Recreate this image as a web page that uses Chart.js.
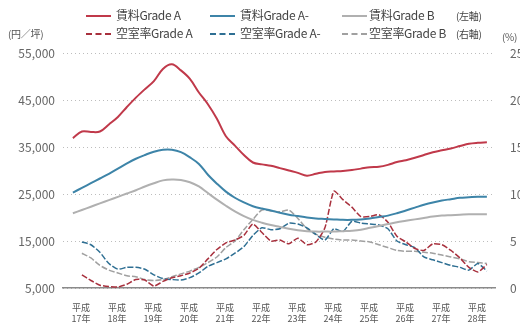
<!DOCTYPE html>
<html><head><meta charset="utf-8">
<script src="https://cdn.jsdelivr.net/npm/chart.js@4"></script>
<style>
body{margin:0;width:520px;height:326px;overflow:hidden;background:#fff;font-family:"Noto Sans CJK JP","Noto Sans",sans-serif;}
#wrap{position:relative;width:520px;height:326px;}
canvas{position:absolute;left:0;top:0;}
.lg{position:absolute;font-size:12px;color:#444;line-height:14px;white-space:nowrap;letter-spacing:-0.3px;}
.sw{position:absolute;width:25px;height:0;}
</style></head><body>
<div id="wrap">
<canvas id="c" width="520" height="326"></canvas>
<div class="sw" style="left:86px;top:15px;border-top:2px solid #c0394a"></div>
<div class="lg" style="left:116px;top:8px">賃料Grade A</div>
<div class="sw" style="left:210px;top:15px;border-top:2px solid #3d84a8"></div>
<div class="lg" style="left:240px;top:8px">賃料Grade A-</div>
<div class="sw" style="left:342px;top:15px;border-top:2px solid #b0b0b0"></div>
<div class="lg" style="left:369px;top:8px">賃料Grade B</div>
<div class="lg" style="left:456px;top:9px;font-size:10px">(左軸)</div>
<div class="sw" style="left:86px;top:33px;border-top:2px dashed #a8303d"></div>
<div class="lg" style="left:116px;top:26px">空室率Grade A</div>
<div class="sw" style="left:210px;top:33px;border-top:2px dashed #2e6f93"></div>
<div class="lg" style="left:240px;top:26px">空室率Grade A-</div>
<div class="sw" style="left:342px;top:33px;border-top:2px dashed #a0a0a0"></div>
<div class="lg" style="left:369px;top:26px">空室率Grade B</div>
<div class="lg" style="left:456px;top:27px;font-size:10px">(右軸)</div>
<div class="lg" style="left:8px;top:27px;font-size:10px;color:#555">(円／坪)</div>
<div class="lg" style="left:502px;top:30px;font-size:10px;color:#555">(%)</div>
</div>
<script>
// quarterly index 0..46
const rentA = [36900,38300,38200,38300,39800,41400,43500,45500,47300,49000,51600,52600,51300,49500,46600,44100,41000,37300,35300,33300,31700,31300,31000,30500,30000,29500,28900,29300,29700,29800,29900,30100,30400,30700,30800,31200,31800,32200,32700,33300,33900,34300,34700,35200,35700,35900,36000];
const rentAm = [25300,26300,27300,28300,29300,30400,31500,32500,33300,34000,34400,34400,33900,32800,31400,29100,27200,25500,24200,23200,22400,21900,21500,21000,20600,20300,20000,19800,19700,19600,19500,19500,19600,19800,20100,20400,20900,21500,22100,22700,23200,23600,23900,24200,24300,24400,24400];
const rentB = [20900,21600,22300,23000,23700,24400,25100,25800,26600,27300,27900,28100,28000,27500,26600,25200,23800,22500,21300,20300,19500,18900,18400,18000,17600,17300,17100,17000,17000,17000,17100,17200,17400,17800,18200,18600,19000,19300,19600,19900,20200,20400,20500,20600,20700,20700,20700];
const vacA = [null,1.4,0.8,0.3,0.15,0.1,0.4,0.9,0.85,0.2,0.7,1.1,1.3,1.6,2.1,3.1,4.1,4.8,5.1,5.6,6.8,5.9,5.0,5.1,4.7,5.3,4.6,4.9,6.4,10.3,9.4,8.6,7.6,7.6,7.8,7.0,5.5,4.9,4.2,4.0,4.7,4.6,4.0,3.2,2.2,1.7,2.5];
const vacAm = [null,4.9,4.6,3.8,2.6,2.0,2.2,2.2,2.0,1.4,1.0,0.9,0.85,1.1,1.6,2.3,2.7,3.1,3.7,4.4,5.6,6.4,6.2,6.3,6.9,6.8,6.4,5.7,5.1,6.3,6.0,7.1,6.9,6.8,6.7,6.3,5.0,4.6,4.3,3.3,3.0,2.7,2.4,2.2,1.9,2.6,1.8];
const vacB = [null,3.7,3.2,2.4,1.9,1.6,1.3,1.2,0.9,0.8,0.9,1.2,1.5,1.8,2.2,2.7,3.3,4.3,5.0,6.2,7.3,8.3,8.2,8.1,8.3,7.4,6.3,5.7,5.4,5.2,5.1,5.1,5.0,4.9,4.6,4.3,4.0,3.9,3.9,3.8,3.7,3.5,3.3,3.1,2.8,2.7,2.6];
const yearLabels = ['17年','18年','19年','20年','21年','22年','23年','24年','25年','26年','27年','28年'];
const eraLabel = '平成';
const leftTicks = [5000,15000,25000,35000,45000,55000];
const rightTicks = [0,5,10,15,20,25];

const pts = arr => arr.map((v,i)=>({x:i,y:v}));
const F = '"Noto Sans CJK JP","Noto Sans",sans-serif';

new Chart(document.getElementById('c'), {
  type:'line',
  data:{datasets:[
    {data:pts(rentA),yAxisID:'yL',borderColor:'#c0394a',borderWidth:2,tension:0.35},
    {data:pts(rentAm),yAxisID:'yL',borderColor:'#3d84a8',borderWidth:2,tension:0.35},
    {data:pts(rentB),yAxisID:'yL',borderColor:'#b0b0b0',borderWidth:2,tension:0.35},
    {data:pts(vacA),yAxisID:'yR',borderColor:'#a8303d',borderWidth:1.5,borderDash:[6,2],tension:0.2},
    {data:pts(vacAm),yAxisID:'yR',borderColor:'#2e6f93',borderWidth:1.5,borderDash:[6,2],tension:0.2},
    {data:pts(vacB),yAxisID:'yR',borderColor:'#a0a0a0',borderWidth:1.5,borderDash:[6,2],tension:0.2}
  ]},
  options:{
    responsive:false,animation:false,devicePixelRatio:1,
    layout:{padding:{top:53,left:0,right:0,bottom:0}},
    elements:{point:{radius:0}},
    plugins:{legend:{display:false},tooltip:{enabled:false}},
    scales:{
      x:{type:'linear',min:-1.1,max:46.9,
        afterBuildTicks:s=>{s.ticks=yearLabels.map((_,k)=>({value:4*k+0.9}));},
        afterFit:s=>{s.height=38;},
        grid:{display:false},
        border:{display:true,color:'#8a8a8a',width:1.5},
        ticks:{autoSkip:false,maxRotation:0,padding:6,color:'#555',font:{family:F,size:9},
          callback:(v,i)=>[eraLabel,yearLabels[i]]}
      },
      yL:{position:'left',min:5000,max:55000,
        afterBuildTicks:s=>{s.ticks=leftTicks.map(v=>({value:v}));},
        afterFit:s=>{s.width=63;},
        grid:{color:'#bdbdbd',lineWidth:1,drawTicks:false},
        border:{display:false,dash:[1,3]},
        ticks:{padding:8,color:'#666',font:{family:F,size:12},
          callback:v=>v.toLocaleString('en-US')}
      },
      yR:{position:'right',min:0,max:25,
        afterBuildTicks:s=>{s.ticks=rightTicks.map(v=>({value:v}));},
        afterFit:s=>{s.width=25;},
        grid:{display:false},
        border:{display:false},
        ticks:{padding:7,color:'#666',font:{family:F,size:12}}
      }
    }
  }
});
</script>
</body></html>
